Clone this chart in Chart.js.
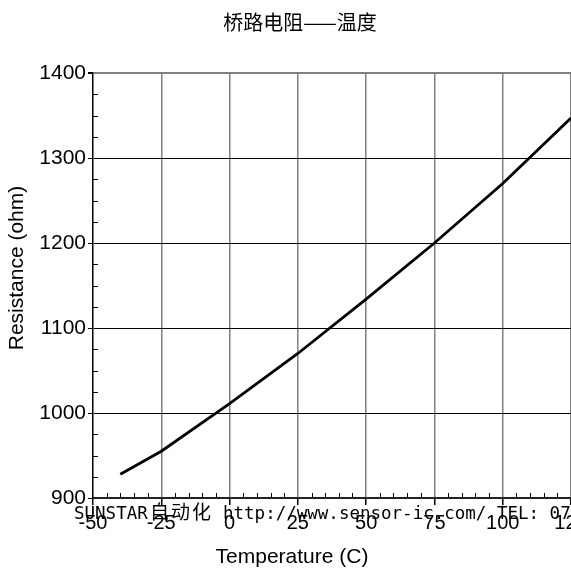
<!DOCTYPE html>
<html>
<head>
<meta charset="utf-8">
<script src="https://cdn.jsdelivr.net/npm/chart.js@4"></script>
<style>
  html, body { margin: 0; padding: 0; background: #fff; overflow: hidden; }
  #wrap { width: 571px; height: 569px; overflow: hidden; }
</style>
</head>
<body>
<div id="wrap"><canvas id="myChart" width="600" height="569"></canvas></div>
<script>
// values
const temps = [-40, -25, 0, 25, 50, 75, 100, 125];
const resist = [928, 955, 1011, 1070, 1134, 1200, 1270, 1347];
const xTicks = [-50, -25, 0, 25, 50, 75, 100, 125];
const yTicks = [900, 1000, 1100, 1200, 1300, 1400];

const chartTitle = "桥路电阻——温度";
const xLabel = "Temperature (C)";
const yLabel = "Resistance (ohm)";
const markParts = ["SUNSTAR", "自动化", "http://www.sensor-ic.com/ TEL: 07"];

// small inward ticks between the labelled ones
const minorTicks = {
  id: "minorTicks",
  afterDatasetsDraw(chart) {
    const x = chart.scales.x, y = chart.scales.y;
    const c = chart.ctx;
    c.save();
    c.strokeStyle = "#000";
    c.lineWidth = 1;
    c.beginPath();
    for (let v = x.min; v <= x.max; v += 5) {
      if (v % 25 === 0) continue;
      const px = Math.round(x.getPixelForValue(v)) + 0.5;
      c.moveTo(px, y.bottom);
      c.lineTo(px, y.bottom - 5);
    }
    for (let v = y.min; v <= y.max; v += 25) {
      if (v % 100 === 0) continue;
      const py = Math.round(y.getPixelForValue(v)) + 0.5;
      c.moveTo(x.left, py);
      c.lineTo(x.left + 5, py);
    }
    c.stroke();
    c.restore();
  },
};

// titles (placed like the original, not centred on the plot) and the site stamp
const texts = {
  id: "texts",
  afterDraw(chart) {
    const c = chart.ctx;
    c.save();
    c.fillStyle = "#000";

    c.textAlign = "center";
    c.textBaseline = "middle";
    c.font = '20px "Noto Sans CJK SC"';
    c.fillText(chartTitle, 300, 22);

    c.font = '21px "Liberation Sans"';
    c.fillText(xLabel, 292, 557);

    c.save();
    c.translate(17, 268);
    c.rotate(-Math.PI / 2);
    c.fillText(yLabel, 0, 0);
    c.restore();

    c.textAlign = "left";
    c.textBaseline = "alphabetic";
    c.font = '17.5px "DejaVu Sans Mono"';
    c.fillText(markParts[0], 74, 519);
    c.font = '19px "Noto Sans CJK SC"';
    c.letterSpacing = "2px";
    c.fillText(markParts[1], 150, 519);
    c.letterSpacing = "0px";
    c.font = '17.5px "DejaVu Sans Mono"';
    c.fillText(markParts[2], 223, 519);
    c.restore();
  },
};

const ctx = document.getElementById("myChart");
new Chart(ctx, {
  type: "line",
  data: {
    datasets: [
      {
        data: temps.map((t, i) => ({ x: t, y: resist[i] })),
        borderColor: "#000",
        borderWidth: 2.8,
        pointRadius: 0,
        tension: 0,
      },
    ],
  },
  options: {
    responsive: false,
    animation: false,
    layout: { padding: { left: 0, right: 29, top: 73, bottom: 0 } },
    plugins: {
      legend: { display: false },
      tooltip: { enabled: false },
    },
    scales: {
      x: {
        type: "linear",
        min: -50,
        max: 125,
        afterBuildTicks: (s) => { s.ticks = xTicks.map((v) => ({ value: v })); },
        afterFit: (s) => { s.height = 71; },
        ticks: {
          color: "#000",
          padding: 6,
          maxRotation: 0,
          font: { family: '"Liberation Sans"', size: 20 },
        },
        grid: {
          color: (c) => (c.tick && c.tick.value === -50 ? "rgba(0,0,0,0)" : "#808080"),
          lineWidth: 1.5,
          tickLength: 7,
          tickColor: "#000",
        },
        border: { color: "#222", width: 2 },
      },
      y: {
        min: 900,
        max: 1400,
        afterBuildTicks: (s) => { s.ticks = yTicks.map((v) => ({ value: v })); },
        afterFit: (s) => { s.width = 93; },
        ticks: {
          color: "#000",
          padding: 2,
          font: { family: '"Liberation Sans"', size: 21 },
          callback: (v) => String(v),
        },
        grid: {
          color: (c) => {
            if (!c.tick) return "#000";
            if (c.tick.value === 1400) return "#808080";
            if (c.tick.value === 900) return "rgba(0,0,0,0)";
            return "#000";
          },
          lineWidth: (c) => (c.tick && c.tick.value === 1400 ? 2 : 1),
          tickLength: 5,
          tickColor: "#000",
        },
        border: { color: "#000", width: 1.5 },
      },
    },
  },
  plugins: [minorTicks, texts],
});
</script>
</body>
</html>
